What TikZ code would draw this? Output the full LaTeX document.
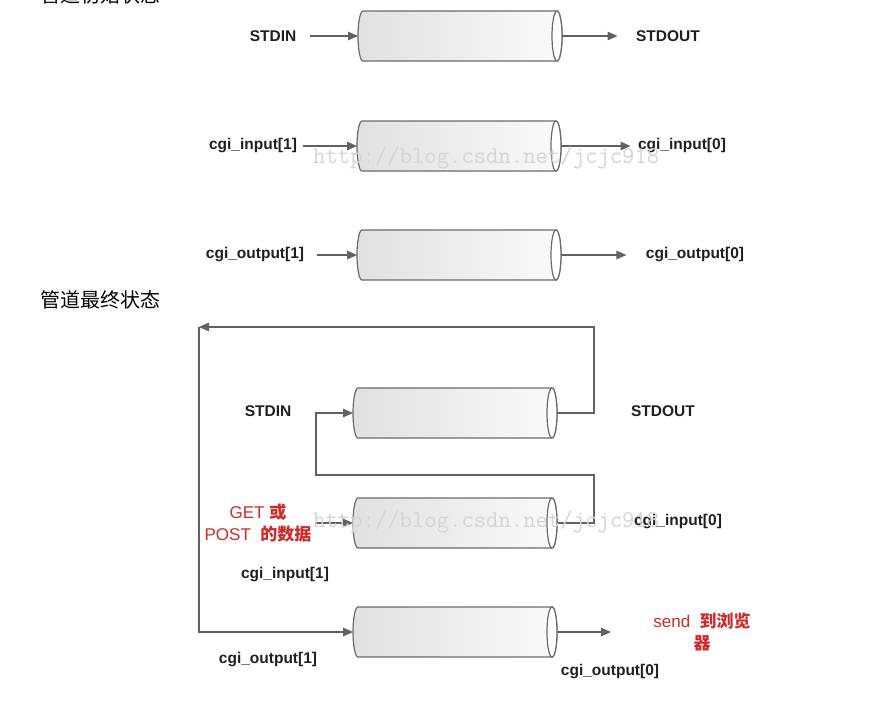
\documentclass[tikz,border=0pt]{standalone}
\usepackage{fontspec}
\setmainfont{Liberation Sans}
\newfontfamily\cjk{Noto Sans CJK SC}
\usetikzlibrary{arrows.meta,positioning}
\definecolor{notered}{RGB}{205,42,42}
\tikzset{
  pipe/.style={minimum width=204pt, minimum height=50pt, inner sep=0pt, outer sep=0pt},
  pipeline/.style={draw=black!58, line width=1.2pt},
  lbl/.style={font=\bfseries\fontsize{15.5}{18}\selectfont, text=black!88},
  note/.style={font=\fontsize{17}{22}\selectfont, text=notered, align=center},
  head/.style={anchor=west, inner sep=0pt, font=\cjk\fontsize{20}{24}\selectfont},
  wire/.style={draw=black!62, line width=1.1pt},
  watermark/.style={font=\ttfamily\fontsize{24}{24}\selectfont, text=black!17, anchor=west, inner sep=0pt}
}
\begin{document}
\begin{tikzpicture}[x=1pt, y=-1pt, >={Triangle[length=10pt,width=8.5pt]}]
    \fill[white] (0,0) rectangle (888,705);
    \useasboundingbox (0,0) rectangle (888,705);
    \node[head] (inithead) at (40,-5) {管道初始状态};
    \node[pipe] (stdpipe) at (460,36) {};
    \node[pipe] (inpipe) at (459,146) {};
    \node[pipe] (outpipe) at (459,255) {};
    \node[pipe] (stdpipe2) at (455,413) {};
    \node[pipe] (inpipe2) at (455,523) {};
    \node[pipe] (outpipe2) at (455,632) {};
    \foreach \p in {stdpipe,inpipe,outpipe,stdpipe2,inpipe2,outpipe2} {
      \shadedraw[pipeline, left color=black!12, right color=black!2]
        ([xshift=-5pt]\p.north east) -- ([xshift=5pt]\p.north west)
        arc[start angle=90, end angle=270, x radius=5pt, y radius=25pt]
        -- ([xshift=-5pt]\p.south east)
        arc[start angle=-90, end angle=90, x radius=5pt, y radius=25pt] -- cycle;
      \draw[pipeline, fill=white] ([xshift=-5pt]\p.east) ellipse[x radius=5pt, y radius=25pt];
    }
    \node[lbl] (stdin) at (273,36) {STDIN};
    \node[lbl] (stdout) at (668,36) {STDOUT};
    \node[lbl] (inone) at (253,146) {cgi\_input[1]};
    \node[lbl] (inzero) at (682,146) {cgi\_input[0]};
    \node[lbl] (outone) at (255,255) {cgi\_output[1]};
    \node[lbl] (outzero) at (695,255) {cgi\_output[0]};
    \draw[wire, ->, shorten <=10pt] (stdin) -- (stdpipe);
    \draw[wire, ->, shorten >=15pt] (stdpipe) -- (stdout);
    \draw[wire, ->, shorten <=3pt] (inone) -- (inpipe);
    \draw[wire, ->, shorten >=4pt] (inpipe) -- (inzero);
    \draw[wire, ->, shorten <=9pt] (outone) -- (outpipe);
    \draw[wire, ->, shorten >=16pt] (outpipe) -- (outzero);
    \node[head] (finalhead) at (40,300) {管道最终状态};
    \node[lbl] (stdin2) at (268,411) {STDIN};
    \node[lbl] (stdout2) at (663,411) {STDOUT};
    \node[lbl] (inzero2) at (678,522) {cgi\_input[0]};
    \node[lbl] (inone2) at (285,575) {cgi\_input[1]};
    \node[lbl] (outone2) at (268,660) {cgi\_output[1]};
    \node[lbl] (outzero2) at (610,672) {cgi\_output[0]};
    \node[note] (getpost) at (258,523) {GET {\cjk\bfseries 或}\\POST\ \ {\cjk\bfseries 的数据}};
    \node[note] (send) at (702,632) {send\ \ {\cjk\bfseries 到浏览}\\{\cjk\bfseries 器}};
    \coordinate (topright) at (594,327);
    \coordinate (topleft) at (199,327);
    \coordinate (loopright) at (594,475);
    \coordinate (loopleft) at (316,475);
    \coordinate (sendend) at (611,632);
    \draw[wire, ->] (stdpipe2.east) -| (topright) -- (topleft);
    \draw[wire, ->] (topleft) |- (outpipe2.west);
    \draw[wire, ->] (inpipe2.east) -| (loopright) -- (loopleft) |- (stdpipe2.west);
    \draw[wire, ->] (getpost) -- (inpipe2);
    \draw[wire, ->] (outpipe2.east) -- (sendend);
    \node[watermark] (mark1) at (313,158) {http://blog.csdn.net/jcjc918};
    \node[watermark] (mark2) at (313,522) {http://blog.csdn.net/jcjc918};
\end{tikzpicture}
\end{document}
